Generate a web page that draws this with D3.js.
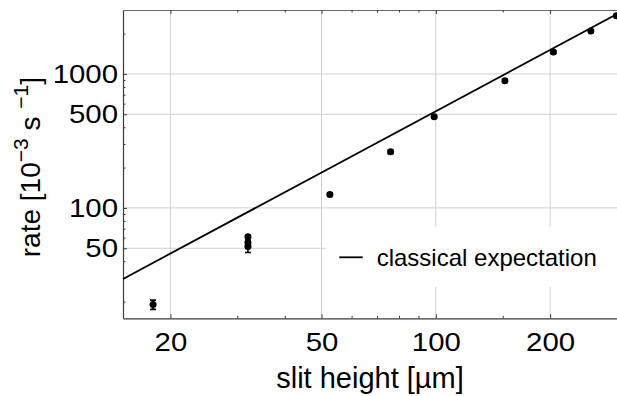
<!DOCTYPE html>
<html>
<head>
<meta charset="utf-8">
<script src="https://cdn.jsdelivr.net/npm/d3@7"></script>
<style>
  body { margin: 0; background: #fff; }
  svg { display: block; font-family: "Liberation Sans", Arial, sans-serif; }
</style>
</head>
<body>
<div id="chart"></div>
<script>
// measured points
const heights = [18, 32, 32, 32, 52.6, 76, 99, 152, 204, 256, 299];
const rates = [19, 61, 55, 51.5, 126, 262, 480, 890, 1460, 2095, 2720];
const rateErrors = [1.5, 2, 2.5, 5, 3, 8, 12, 20, 30, 40, 50];

// classical expectation line (end points)
const classicalHeights = [15, 300];
const classicalRates = [29.5, 2800];

// ticks
const xMajor = [20, 50, 100, 200];
const xMinor = [30, 40, 60, 70, 80, 90, 150];
const yMajor = [50, 100, 500, 1000];
const yMinor = [20, 30, 40, 60, 70, 80, 90, 200, 300, 400, 600, 700, 800, 900, 2000];

const legendLabel = "classical expectation";

const width = 617, height = 396;
const margin = { top: 10, right: 0, bottom: 77.7, left: 123 };

const svg = d3.select("#chart").append("svg")
    .attr("width", width)
    .attr("height", height);

const x = d3.scaleLog()
    .domain([15, 300])
    .range([margin.left, width - margin.right]);

const y = d3.scaleLog()
    .domain([15, 3000])
    .range([height - margin.bottom, margin.top]);

const gridColor = "#d0d0d0";
const frameColor = "#3a3a3a";

// grid
svg.append("g")
    .selectAll("line")
    .data(xMajor)
    .join("line")
    .attr("x1", d => x(d)).attr("x2", d => x(d))
    .attr("y1", y.range()[0]).attr("y2", y.range()[1])
    .attr("stroke", gridColor);

svg.append("g")
    .selectAll("line")
    .data(yMajor)
    .join("line")
    .attr("x1", x.range()[0]).attr("x2", x.range()[1])
    .attr("y1", d => y(d)).attr("y2", d => y(d))
    .attr("stroke", gridColor);

// axes
const fmt = d3.format("d");
const labelSize = "26px";

const xAxis = svg.append("g")
    .attr("transform", `translate(0,${y.range()[0]})`)
    .call(d3.axisBottom(x).tickValues(xMajor).tickFormat(fmt).tickSize(-4).tickSizeOuter(0).tickPadding(14));
xAxis.append("g")
    .call(d3.axisBottom(x).tickValues(xMinor).tickFormat("").tickSize(-2.5).tickSizeOuter(0))
    .select(".domain").remove();

const yAxis = svg.append("g")
    .attr("transform", `translate(${x.range()[0]},0)`)
    .call(d3.axisLeft(y).tickValues(yMajor).tickFormat(fmt).tickSize(-4).tickSizeOuter(0).tickPadding(5));
yAxis.append("g")
    .call(d3.axisLeft(y).tickValues(yMinor).tickFormat("").tickSize(-2.5).tickSizeOuter(0))
    .select(".domain").remove();

// top frame ticks
const topAxis = svg.append("g")
    .attr("transform", `translate(0,${y.range()[1]})`)
    .call(d3.axisTop(x).tickValues(xMajor).tickFormat("").tickSize(-4).tickSizeOuter(0));
topAxis.append("g")
    .call(d3.axisTop(x).tickValues(xMinor).tickFormat("").tickSize(-2.5).tickSizeOuter(0))
    .select(".domain").remove();

[xAxis, yAxis, topAxis].forEach(g => {
    g.selectAll(".domain").attr("stroke", frameColor).attr("stroke-width", 1.2);
    g.selectAll(".tick line").attr("stroke", frameColor);
    g.selectAll("text")
        .attr("fill", "#000")
        .style("font-size", labelSize)
        .style("font-family", "'Liberation Sans', Arial, sans-serif");
});
topAxis.select(".domain").attr("stroke", "#666");

// the tick digits in the original are a bit wider than Arial
[xAxis, yAxis].forEach(g => {
    g.selectAll(".tick text").each(function() {
        const w = this.getComputedTextLength();
        d3.select(this)
            .attr("textLength", w * 1.13)
            .attr("lengthAdjust", "spacingAndGlyphs");
    });
});

// legend box (hides grid)
const legend = svg.append("g");
legend.append("rect")
    .attr("x", 326).attr("y", 227)
    .attr("width", width - 326).attr("height", 60)
    .attr("fill", "#fff");

// classical expectation
const line = d3.line()
    .x(d => x(d[0]))
    .y(d => y(d[1]));

svg.append("path")
    .datum(classicalHeights.map((h, i) => [h, classicalRates[i]]))
    .attr("d", line)
    .attr("fill", "none")
    .attr("stroke", "#000")
    .attr("stroke-width", 1.8);

// data with error bars
const pts = heights.map((h, i) => ({ h, r: rates[i], e: rateErrors[i] }));
const capW = 3;
const dataG = svg.append("g");

dataG.selectAll(".err")
    .data(pts)
    .join("path")
    .attr("class", "err")
    .attr("d", d => {
        const cx = x(d.h), y0 = y(d.r - d.e), y1 = y(d.r + d.e);
        return `M${cx},${y0}V${y1}M${cx - capW},${y0}H${cx + capW}M${cx - capW},${y1}H${cx + capW}`;
    })
    .attr("stroke", "#000")
    .attr("stroke-width", 1.6)
    .attr("fill", "none");

dataG.selectAll("circle")
    .data(pts)
    .join("circle")
    .attr("cx", d => x(d.h))
    .attr("cy", d => y(d.r))
    .attr("r", 3.5)
    .attr("fill", "#000");

// legend content
const ly = 257.3;
legend.append("line")
    .attr("x1", 339.3).attr("x2", 362.7)
    .attr("y1", ly).attr("y2", ly)
    .attr("stroke", "#000").attr("stroke-width", 1.8);
legend.append("text")
    .attr("x", 376.7).attr("y", ly).attr("dy", "0.35em")
    .style("font-size", "24px")
    .text(legendLabel);

// axis titles
svg.append("text")
    .attr("x", (x.range()[0] + x.range()[1]) / 2)
    .attr("y", 388)
    .attr("text-anchor", "middle")
    .style("font-size", "29px")
    .text("slit height [µm]");

const yt = svg.append("text")
    .attr("transform", `translate(40,${(y.range()[0] + y.range()[1]) / 2 + 3}) rotate(-90)`)
    .attr("text-anchor", "middle")
    .style("font-size", "28px");
yt.append("tspan").text("rate [10");
yt.append("tspan").attr("dy", -12).style("font-size", "21px").text("−3");
yt.append("tspan").attr("dy", 12).text("  s ");
yt.append("tspan").attr("dy", -12).style("font-size", "21px").text("−1");
yt.append("tspan").attr("dy", 12).text("]");
</script>
</body>
</html>
